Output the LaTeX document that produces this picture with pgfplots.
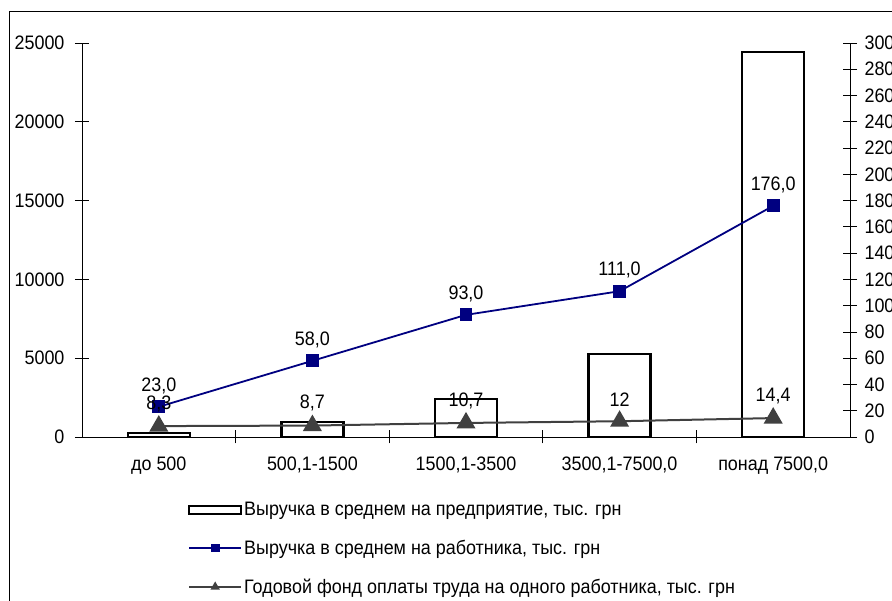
\documentclass[border=0pt]{standalone}
\usepackage{pgfplots}
\pgfplotsset{compat=1.18}
\usepackage{fontspec}
\setmainfont[FakeStretch=0.92]{Liberation Sans}

\definecolor{navyline}{RGB}{0,0,128}
\definecolor{grayline}{RGB}{64,64,64}

\pgfplotstableread{
x y lab
0 23 23,0
1 58 58,0
2 93 93,0
3 111 111,0
4 176 176,0
}\perworker

\pgfplotstableread{
x y lab
0 8.3 8,3
1 8.7 8,7
2 10.7 10,7
3 12 12
4 14.4 14,4
}\wagefund

\pgfplotsset{
  frame/.style={
    scale only axis, width=768pt, height=394pt,
    at={(0pt,0pt)}, anchor=south west,
    xmin=-0.5, xmax=4.5,
    tick align=center, major tick length=14pt, minor tick length=13pt,
    tick style={black, line width=0.8pt},
    axis line style={black, line width=0.8pt},
    /pgf/number format/assume math mode=true,
    /pgf/number format/1000 sep={},
    scaled y ticks=false,
    tick label style={font=\fontsize{19.5}{22}\selectfont},
  }
}

\begin{document}
\begin{tikzpicture}[font=\fontsize{19.5}{22}\selectfont]
\useasboundingbox (-82pt,-164pt) rectangle (810pt,437pt);
\clip (-82pt,-164pt) rectangle (810pt,437pt);
\draw[line width=1pt] (-72pt,-200pt) -- (-72pt,425pt) -- (850pt,425pt);

\begin{axis}[frame,
  ymin=0, ymax=25000,
  axis x line*=bottom, axis y line*=left,
  xtick={0,...,4},
  xticklabels={до 500,{500,1-1500},{1500,1-3500},{3500,1-7500,0},{понад 7500,0}},
  major x tick style={draw=none},
  minor xtick={0.5,1.5,2.5,3.5},
  xticklabel style={yshift=-9pt},
  ytick={0,5000,...,25000},
  yticklabel style={xshift=-7pt},
]
\addplot[ybar, bar width=62pt, fill=white, draw=black, line width=2.5pt]
  coordinates {(0,250) (1,950) (2,2410) (3,5270) (4,24430)};
\end{axis}

\begin{axis}[frame,
  ymin=0, ymax=300,
  axis x line=none, axis y line*=right,
  ytick={0,20,...,300},
  yticklabel style={xshift=4pt},
  legend image code/.code={\draw[mark repeat=2,mark phase=2,#1,mark size=3.5pt]
    plot coordinates {(0pt,0pt) (26pt,0pt) (52pt,0pt)};},
  legend style={at={(axis description cs:0.138,-0.16)}, anchor=north west,
    draw=none, fill=none, row sep=19pt, inner sep=0pt,
    cells={anchor=west}, font=\fontsize{19.5}{22}\selectfont},
  nodes near coords, point meta=explicit symbolic,
  every node near coord/.append style={black, anchor=south,
    font=\fontsize{19.5}{22}\selectfont},
]
\addlegendimage{legend image code/.code={\draw[line width=2pt] (0pt,-4pt) rectangle (52pt,4pt);}}
\addplot[navyline, line width=1.8pt, mark=square*, mark size=5.5pt,
  every node near coord/.append style={yshift=9pt}]
  table[x=x, y=y, meta=lab] {\perworker};
\addplot[grayline, line width=2pt, mark=triangle*, mark size=9pt,
  every node near coord/.append style={yshift=10pt}]
  table[x=x, y=y, meta=lab] {\wagefund};
\legend{{Выручка в среднем на предприятие, тыс. грн},
  {Выручка в среднем на работника, тыс. грн},
  {Годовой фонд оплаты труда на одного работника, тыс. грн}}
\end{axis}
\end{tikzpicture}
\end{document}
